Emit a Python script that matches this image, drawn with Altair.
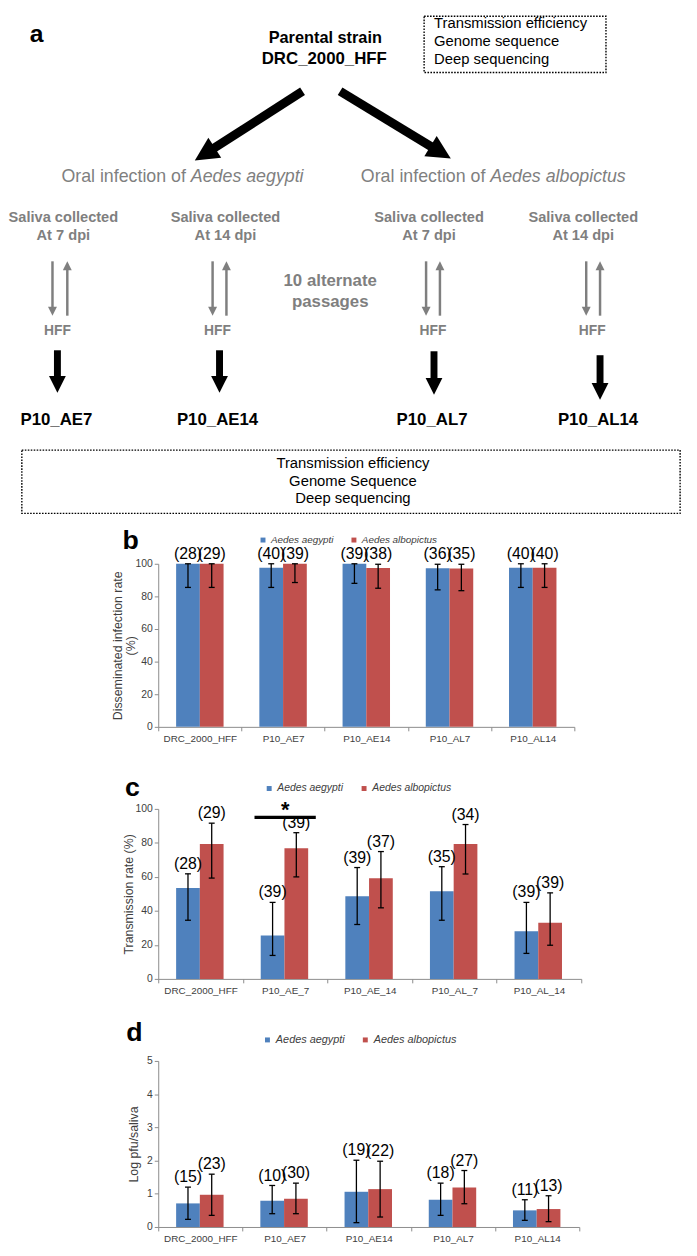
import math
import altair as alt
import pandas as pd

SANS = "Liberation Sans, Arial, sans-serif"
GRAY = "#7f7f7f"
AXIS_GRAY = "#8c8c8c"
LABEL_GRAY = "#404040"

# ---------------- data ----------------
species = ["Aedes aegypti", "Aedes albopictus"]
species_colors = ["#4F81BD", "#C0504D"]

# (b) disseminated infection rate (%)
strains_b = ["DRC_2000_HFF", "P10_AE7", "P10_AE14", "P10_AL7", "P10_AL14"]
dir_aeg = [100, 97.5, 100, 97.2, 97.5]
dir_aeg_lo = [85.5, 85.5, 88.0, 84.0, 85.5]
dir_aeg_hi = [100, 100, 100, 99.7, 100]
dir_alb = [100, 100, 97.4, 97.1, 97.5]
dir_alb_lo = [85.5, 88.5, 85.0, 83.5, 85.5]
dir_alb_hi = [100, 100, 99.7, 99.7, 100]
dir_n_aeg = [28, 40, 39, 36, 40]
dir_n_alb = [29, 39, 38, 35, 40]

# (c) transmission rate (%)
strains_c = ["DRC_2000_HFF", "P10_AE_7", "P10_AE_14", "P10_AL_7", "P10_AL_14"]
tr_aeg = [53.5, 25.5, 48.6, 51.5, 28.0]
tr_aeg_lo = [34.5, 13.8, 32.0, 34.5, 15.0]
tr_aeg_hi = [61.8, 45.0, 65.5, 66.0, 45.0]
tr_alb = [79.3, 76.8, 59.2, 79.4, 33.0]
tr_alb_lo = [59.3, 60.0, 41.8, 61.7, 19.8]
tr_alb_hi = [91.6, 86.0, 74.9, 90.8, 50.6]
tr_n_aeg = [28, 39, 39, 35, 39]
tr_n_alb = [29, 39, 37, 34, 39]
sig_strain = "P10_AE_7"
sig_level = 95
sig_symbol = "*"

# (d) viral load, log pfu/saliva
strains_d = ["DRC_2000_HFF", "P10_AE7", "P10_AE14", "P10_AL7", "P10_AL14"]
vl_aeg = [0.71, 0.79, 1.06, 0.82, 0.50]
vl_aeg_lo = [0.23, 0.40, 0.13, 0.35, 0.20]
vl_aeg_hi = [1.20, 1.25, 2.01, 1.32, 0.82]
vl_alb = [0.97, 0.85, 1.14, 1.19, 0.54]
vl_alb_lo = [0.35, 0.40, 0.30, 0.70, 0.16]
vl_alb_hi = [1.59, 1.32, 1.98, 1.70, 0.94]
vl_n_aeg = [15, 10, 19, 18, 11]
vl_n_alb = [23, 30, 22, 27, 13]

# ---------------- schematic (panel a) layout, page pixels ----------------
OX, OY = 160, 8           # plot origin shared by every panel
DIAG_W, DIAG_H = 537, 472
SPACING = 83

col_text_x = [64, 228, 434, 590]
dpi_labels = ["At 7 dpi", "At 14 dpi", "At 7 dpi", "At 14 dpi"]
hff_x = [58, 220, 438, 599]
strain_x = [57, 220, 437, 605]
passage_names = ["P10_AE7", "P10_AE14", "P10_AL7", "P10_AL14"]

texts = [
    ("a", 37, 27, "letter"),
    ("Parental strain", 329, 31, "bold16"),
    ("DRC_2000_HFF", 328, 52, "bold17"),
    ("Transmission efficiency", 439, 16, "box_l"),
    ("Genome sequence", 439, 34, "box_l"),
    ("Deep sequencing", 439, 52, "box_l"),
    ("Oral infection of", 188, 172, "gray_r"),
    ("Aedes aegypti", 193, 172, "gray_i"),
    ("Oral infection of", 491, 172, "gray_r"),
    ("Aedes albopictus", 496, 172, "gray_i"),
    ("10 alternate", 334, 277, "gray_b"),
    ("passages", 334, 298, "gray_b"),
    ("Transmission efficiency", 357, 461, "box_c"),
    ("Genome Sequence", 357, 479, "box_c"),
    ("Deep sequencing", 357, 497, "box_c"),
]
for x, d in zip(col_text_x, dpi_labels):
    texts.append(("Saliva collected", x, 213, "gray_n"))
    texts.append((d, x, 231, "gray_n"))
for x in hff_x:
    texts.append(("HFF", x, 328, "gray_b14"))
for x, s in zip(strain_x, passage_names):
    texts.append((s, x, 418, "bold17"))

STYLES = {
    "letter": dict(font=SANS, fontSize=25, fontWeight="bold", color="black"),
    "bold16": dict(font=SANS, fontSize=16.5, fontWeight="bold", color="black"),
    "bold17": dict(font=SANS, fontSize=17, fontWeight="bold", color="black"),
    "box_l": dict(font=SANS, fontSize=15, color="black", align="left"),
    "box_c": dict(font=SANS, fontSize=15, color="black"),
    "gray_r": dict(font=SANS, fontSize=18, color=GRAY, align="right"),
    "gray_i": dict(font=SANS, fontSize=18, color=GRAY, align="left", fontStyle="italic"),
    "gray_b": dict(font=SANS, fontSize=17, fontWeight="bold", color=GRAY),
    "gray_n": dict(font=SANS, fontSize=14.8, fontWeight="bold", color=GRAY),
    "gray_b14": dict(font=SANS, fontSize=14, fontWeight="bold", color=GRAY),
}

# arrows: start x, start y, tip x, tip y, shaft width, head half-size, colour
arrows = [
    (306, 85, 197, 155, 9, 12, "black"),
    (344, 85, 456, 153, 9, 12, "black"),
]
for x, y0, y1 in zip([58, 222, 439, 607], [347, 347, 348, 352], [390, 390, 392, 397]):
    arrows.append((x, y0, x, y1, 7, 8.5, "black"))
for xd, xu in [(53, 68), (215, 229), (431, 445), (593, 607)]:
    arrows.append((xd, 257, xd, 312, 2.5, 4.5, GRAY))
    arrows.append((xu, 312, xu, 257, 2.5, 4.5, GRAY))

boxes = [(429, 9, 613, 66), (22, 448, 688, 512)]

HEAD = "M-1,-1L1,-1L0,1Z"


def ix(f):
    return alt.X(f"{f}:Q", scale=None)


def iy(f):
    return alt.Y(f"{f}:Q", scale=None)


def text_layer(style):
    rows = [dict(t=t, x=x - OX, y=y - OY) for (t, x, y, s) in texts if s == style]
    props = dict(STYLES[style])
    props.setdefault("align", "center")
    props.setdefault("baseline", "middle")
    return alt.Chart(pd.DataFrame(rows)).mark_text(**props).encode(
        x=ix("x"), y=iy("y"), text="t:N")


shafts, heads = [], []
for x0, y0, x1, y1, w, h, c in arrows:
    L = math.hypot(x1 - x0, y1 - y0)
    ux, uy = (x1 - x0) / L, (y1 - y0) / L
    cx, cy = x1 - ux * h, y1 - uy * h
    ang = math.degrees(math.atan2(-ux, uy)) % 360
    shafts.append(dict(x=x0 - OX, y=y0 - OY, x2=cx - OX, y2=cy - OY, w=w, c=c))
    heads.append(dict(x=cx - OX, y=cy - OY, a=ang, s=(2 * h) ** 2, c=c))

shaft_layer = alt.Chart(pd.DataFrame(shafts)).mark_rule().encode(
    x=ix("x"), y=iy("y"), x2="x2:Q", y2="y2:Q",
    strokeWidth=alt.StrokeWidth("w:Q", scale=None),
    color=alt.Color("c:N", scale=None))
head_layer = alt.Chart(pd.DataFrame(heads)).mark_point(
    shape=HEAD, filled=True, opacity=1, strokeWidth=0).encode(
    x=ix("x"), y=iy("y"),
    angle=alt.Angle("a:Q", scale=None),
    size=alt.Size("s:Q", scale=None),
    color=alt.Color("c:N", scale=None))
box_layer = alt.Chart(pd.DataFrame(
    [dict(x=a - OX, y=b - OY, x2=c - OX, y2=d - OY) for a, b, c, d in boxes])).mark_rect(
    fillOpacity=0, stroke="black", strokeWidth=1.4, strokeDash=[1.6, 1.4]).encode(
    x=ix("x"), y=iy("y"), x2="x2:Q", y2="y2:Q")
anchor = alt.Chart(pd.DataFrame([dict(x=8 - OX, y=8 - OY, x2=9 - OX, y2=9 - OY)])).mark_rect(
    opacity=0).encode(x=ix("x"), y=iy("y"), x2="x2:Q", y2="y2:Q")

diagram = alt.layer(
    anchor, box_layer, shaft_layer, head_layer,
    *[text_layer(s) for s in STYLES]
).properties(width=DIAG_W, height=DIAG_H)


# ---------------- bar panels ----------------
def long_df(cats, a, alo, ahi, an, b, blo, bhi, bn):
    rows = []
    for i, c in enumerate(cats):
        rows.append(dict(strain=c, species=species[0], value=a[i], lo=alo[i], hi=ahi[i], n=f"({an[i]})"))
        rows.append(dict(strain=c, species=species[1], value=b[i], lo=blo[i], hi=bhi[i], n=f"({bn[i]})"))
    return pd.DataFrame(rows)


def panel(df, cats, W, H, ymax, yticks, ytitle, tpad, letter, lpos, legpos, legfont,
          legpad, barw, extra=None):
    po = (W / len(cats) / barw - 2) / 2
    X = alt.X("strain:N", sort=cats,
              scale=alt.Scale(domain=cats, paddingInner=0, paddingOuter=0),
              axis=alt.Axis(title=None, labelAngle=0, tickBand="extent", tickSize=4,
                            tickColor=AXIS_GRAY, domainColor=AXIS_GRAY, labelColor=LABEL_GRAY,
                            labelFont=SANS, labelFontSize=10, labelPadding=3))
    XO = alt.XOffset("species:N", sort=species,
                     scale=alt.Scale(domain=species, paddingInner=0, paddingOuter=po))

    def Y(f):
        return alt.Y(f"{f}:Q", scale=alt.Scale(domain=[0, ymax], nice=False, zero=True),
                     axis=alt.Axis(values=yticks, title=ytitle, grid=False, tickSize=4,
                                   tickColor=AXIS_GRAY, domainColor=AXIS_GRAY,
                                   labelColor=LABEL_GRAY, labelFont=SANS, labelFontSize=10.5,
                                   labelPadding=2, titleFont=SANS, titleFontSize=12.5,
                                   titleFontWeight="normal", titleColor=LABEL_GRAY,
                                   titlePadding=tpad, titleLineHeight=14, format="d"))

    base = alt.Chart(df)
    bars = base.mark_bar().encode(
        x=X, xOffset=XO, y=Y("value"),
        color=alt.Color("species:N", sort=species,
                        scale=alt.Scale(domain=species, range=species_colors),
                        legend=alt.Legend(orient="none", legendX=legpos[0], legendY=legpos[1],
                                          direction="horizontal", columns=2, title=None,
                                          symbolType="square", symbolSize=25,
                                          symbolStrokeWidth=0, labelFont=SANS,
                                          labelFontSize=legfont, labelFontStyle="italic",
                                          labelColor=LABEL_GRAY, columnPadding=legpad,
                                          labelOffset=3, padding=0)))
    err = base.mark_rule(color="black", strokeWidth=1.3).encode(
        x=X, xOffset=XO, y=Y("lo"), y2="hi:Q")
    cap_lo = base.mark_tick(color="black", thickness=1.3, size=6, opacity=1).encode(
        x=X, xOffset=XO, y=Y("lo"))
    cap_hi = base.mark_tick(color="black", thickness=1.3, size=6, opacity=1).encode(
        x=X, xOffset=XO, y=Y("hi"))
    labels = base.mark_text(baseline="bottom", dy=-2, font=SANS, fontSize=16, color="black").encode(
        x=X, xOffset=XO, y=Y("hi"), text="n:N")
    let = alt.Chart(pd.DataFrame({"t": [letter]})).mark_text(
        font=SANS, fontSize=27, fontWeight="bold", color="black", align="center",
        baseline="middle").encode(x=alt.value(lpos[0]), y=alt.value(lpos[1]), text="t:N")
    layers = [bars, err, cap_lo, cap_hi, labels, let]
    if extra is not None:
        layers += extra(X, Y)
    return alt.layer(*layers).properties(width=W, height=H)


df_b = long_df(strains_b, dir_aeg, dir_aeg_lo, dir_aeg_hi, dir_n_aeg,
               dir_alb, dir_alb_lo, dir_alb_hi, dir_n_alb)
df_c = long_df(strains_c, tr_aeg, tr_aeg_lo, tr_aeg_hi, tr_n_aeg,
               tr_alb, tr_alb_lo, tr_alb_hi, tr_n_alb)
df_d = long_df(strains_d, vl_aeg, vl_aeg_lo, vl_aeg_hi, vl_n_aeg,
               vl_alb, vl_alb_lo, vl_alb_hi, vl_n_alb)


def significance(X, Y):
    sig = pd.DataFrame({"strain": [sig_strain], "level": [sig_level], "t": [sig_symbol]})
    bar = alt.Chart(sig).mark_tick(color="black", thickness=3.5, size=62, opacity=1).encode(
        x=X, y=Y("level"))
    star = alt.Chart(sig).mark_text(font=SANS, fontSize=22, fontWeight="bold", color="black",
                                    baseline="middle", dy=-7).encode(x=X, y=Y("level"), text="t:N")
    return [bar, star]


pb = panel(df_b, strains_b, 421, 165, 100, [0, 20, 40, 60, 80, 100],
           ["Disseminated infection rate", "(%)"], -3, "b", (-28, -23), (101, -29), 10, 15, 24)
pc = panel(df_c, strains_c, 428, 172, 100, [0, 20, 40, 60, 80, 100],
           "Transmission rate (%)", 0, "c", (-26, -21), (107, -26), 10.5, 15, 24,
           extra=significance)
pdd = panel(df_d, strains_d, 426, 168, 5, [0, 1, 2, 3, 4, 5],
            "Log pfu/saliva", 6, "d", (-24, -28), (105, -27), 11, 15, 23)

chart = alt.vconcat(diagram, pb, pc, pdd, spacing=SPACING, bounds="flush").resolve_scale(
    color="independent").properties(padding=0).configure_view(stroke=None)

chart.save("out.html", embed_options={"renderer": "svg", "actions": False})
